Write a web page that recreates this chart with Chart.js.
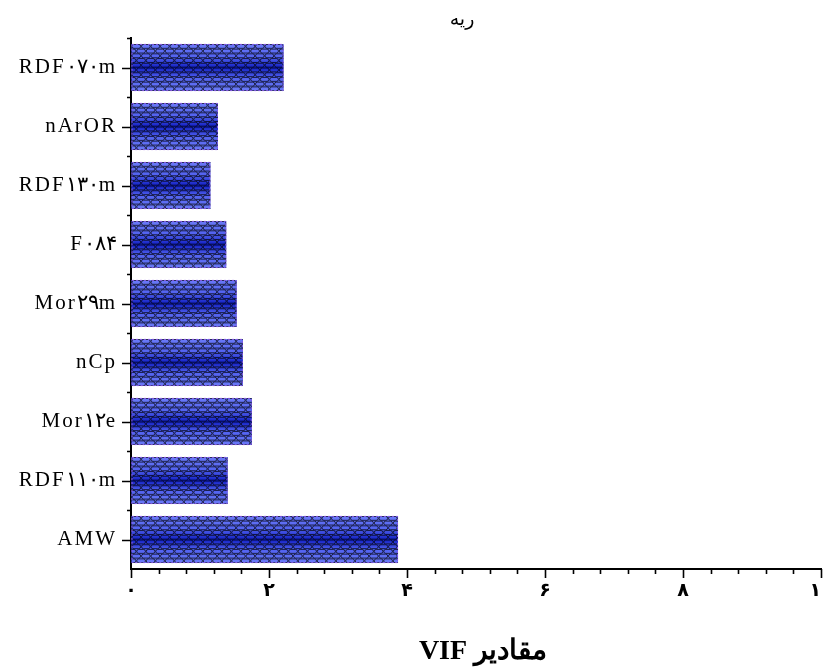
<!DOCTYPE html>
<html>
<head>
<meta charset="utf-8">
<script src="https://cdn.jsdelivr.net/npm/chart.js@4"></script>
<style>
  html, body { margin: 0; padding: 0; background: #ffffff; }
  #wrap { width: 825px; height: 671px; position: relative; }
</style>
</head>
<body>
<div id="wrap"><canvas id="c" width="825" height="671"></canvas></div>
<script>
// ---- data ----
const categories = ['RDF۰۷۰m', 'nArOR', 'RDF۱۳۰m', 'F۰۸۴', 'Mor۲۹m', 'nCp', 'Mor۱۲e', 'RDF۱۱۰m', 'AMW'];
const vifValues = [2.21, 1.26, 1.15, 1.38, 1.53, 1.62, 1.75, 1.40, 3.87];
const xTickValues = [0, 2, 4, 6, 8, 10];
const xTickLabels = ['۰', '۲', '۴', '۶', '۸', '۱۰'];
const chartTitle = 'ریه';
const xAxisTitle = 'مقادیر VIF';

// ---- bar pattern plugin (gradient + scale/brick texture) ----
const barPattern = {
  id: 'barPattern',
  afterDatasetsDraw(chart) {
    const ctx = chart.ctx;
    const meta = chart.getDatasetMeta(0);
    meta.data.forEach(el => {
      const p = el.getProps(['x', 'y', 'base', 'height'], true);
      const left = Math.min(p.x, p.base), right = Math.max(p.x, p.base);
      const top = p.y - p.height / 2, h = p.height, w = right - left;
      ctx.save();
      ctx.beginPath();
      ctx.rect(left, top, w, h);
      ctx.clip();
      const g = ctx.createLinearGradient(0, top, 0, top + h);
      g.addColorStop(0, '#6a7af8');
      g.addColorStop(0.28, '#5262f0');
      g.addColorStop(0.5, '#1220c4');
      g.addColorStop(0.72, '#5262f0');
      g.addColorStop(1, '#6a7af8');
      ctx.fillStyle = g;
      ctx.fillRect(left, top, w, h);
      // cells
      const rows = 10;
      const rh = h / rows;
      const cw = 9.5;
      ctx.strokeStyle = 'rgba(0,0,0,0.7)';
      ctx.lineWidth = 1;
      for (let r = 0; r < rows; r++) {
        const y0 = top + r * rh;
        const off = (r % 2) ? cw / 2 : 0;
        ctx.beginPath();
        for (let cx = left - cw + off; cx < right; cx += cw) {
          ctx.roundRect(cx + 0.5, y0 + 0.5, cw - 0.8, rh - 0.8, 2);
        }
        ctx.stroke();
      }
      ctx.restore();
      // dashed border
      ctx.save();
      ctx.strokeStyle = '#8a5ae6';
      ctx.lineWidth = 1;
      ctx.setLineDash([2, 2]);
      ctx.strokeRect(left + 0.5, top + 0.5, w - 1, h - 1);
      ctx.restore();
    });
  }
};

// ---- axis tick marks plugin (major + minor) ----
const tickMarks = {
  id: 'tickMarks',
  afterDraw(chart) {
    const ctx = chart.ctx;
    const xs = chart.scales.x, ys = chart.scales.y;
    ctx.save();
    ctx.strokeStyle = '#000';
    ctx.lineWidth = 1.6;
    ctx.beginPath();
    xs.ticks.forEach(t => {
      const px = Math.round(xs.getPixelForValue(t.value)) + 0.5;
      const major = xTickValues.some(v => Math.abs(v - t.value) < 1e-6);
      const y0 = xs.top;
      ctx.moveTo(px, y0);
      ctx.lineTo(px, y0 + (major ? 9 : 5));
    });
    categories.forEach((c, i) => {
      const py = Math.round(ys.getPixelForValue(i)) + 0.5;
      ctx.moveTo(ys.right, py);
      ctx.lineTo(ys.right - 9, py);
    });
    for (let i = 0; i < categories.length; i++) {
      const py = Math.round(ys.getPixelForValue(i - 0.5)) + 0.5;
      ctx.moveTo(ys.right, py);
      ctx.lineTo(ys.right - 4, py);
    }
    ctx.stroke();
    ctx.restore();
  }
};

// ---- text placement tweaks (letter spacing of y labels, offsets of titles) ----
const textTweaks = {
  id: 'textTweaks',
  afterLayout(chart) {
    const tb = chart.titleBlock;
    if (tb) { tb.left -= 14; tb.right -= 14; }
    const ys = chart.scales.y, xs = chart.scales.x;
    if (!ys._wrapped) {
      const origLabels = ys.drawLabels;
      ys.drawLabels = function (area) {
        const ctx = this.ctx;
        ctx.save();
        ctx.letterSpacing = '2px';
        origLabels.call(this, area);
        ctx.restore();
      };
      ys._wrapped = true;
    }
    if (!xs._wrapped) {
      const origTitle = xs.drawTitle;
      xs.drawTitle = function () {
        const ctx = this.ctx;
        ctx.save();
        ctx.translate(7, 0);
        origTitle.call(this);
        ctx.restore();
      };
      xs._wrapped = true;
    }
  }
};

new Chart(document.getElementById('c'), {
  type: 'bar',
  data: {
    labels: categories,
    datasets: [{
      data: vifValues,
      backgroundColor: '#2a36d0',
      borderWidth: 0,
      barPercentage: 0.8,
      categoryPercentage: 1.0
    }]
  },
  options: {
    indexAxis: 'y',
    responsive: false,
    animation: false,
    events: [],
    layout: { padding: { top: 0, right: 4, bottom: 0, left: 0 } },
    plugins: {
      legend: { display: false },
      tooltip: { enabled: false },
      title: {
        display: true,
        text: chartTitle,
        fullSize: false,
        color: '#000',
        font: { family: "'DejaVu Sans'", size: 19, weight: 'normal' },
        padding: { top: 8.6, bottom: 6.6 }
      }
    },
    scales: {
      x: {
        type: 'linear',
        min: 0,
        max: 10,
        border: { display: true, color: '#000', width: 2 },
        grid: { display: true, drawOnChartArea: false, drawTicks: false },
        ticks: {
          stepSize: 0.4,
          autoSkip: false,
          maxRotation: 0,
          padding: 11,
          color: '#000',
          font: { family: "'DejaVu Sans'", size: 19, weight: 'bold' },
          callback: (v) => {
            const i = xTickValues.findIndex(t => Math.abs(t - v) < 1e-6);
            return i >= 0 ? xTickLabels[i] : '';
          }
        },
        title: {
          display: true,
          text: '\u202B' + xAxisTitle + '\u202C',
          color: '#000',
          font: { family: "'Liberation Serif'", size: 28, weight: 'bold' },
          padding: { top: 0, bottom: 2 }
        },
        afterFit(s) { s.height = 102; s.paddingLeft = 0; s.paddingRight = 0; }
      },
      y: {
        type: 'category',
        border: { display: true, color: '#000', width: 2 },
        grid: { display: true, drawOnChartArea: false, drawTicks: false },
        ticks: {
          padding: 14,
          color: '#000',
          font: { family: "'Liberation Serif'", size: 21 }
        },
        afterFit(s) { s.width = 131; s.paddingTop = 0; s.paddingBottom = 0; }
      }
    }
  },
  plugins: [barPattern, tickMarks, textTweaks]
});
</script>
</body>
</html>
